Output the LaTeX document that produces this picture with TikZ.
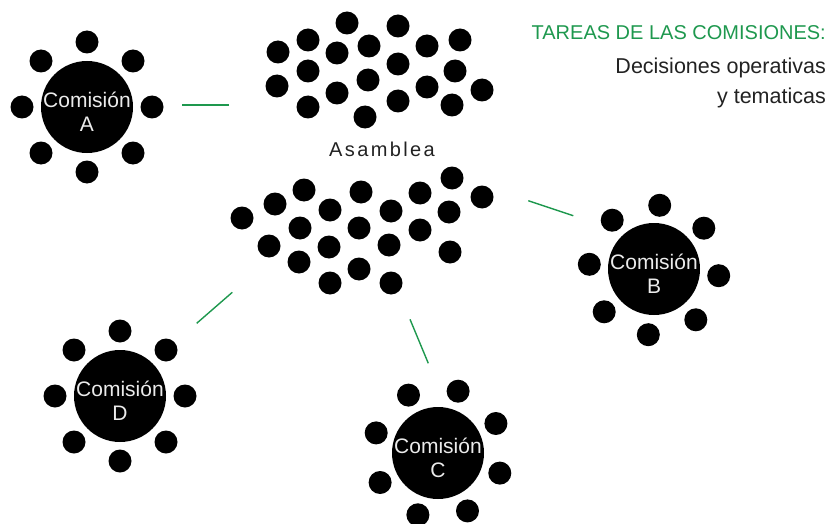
\documentclass[tikz,border=0pt]{standalone}
\usepackage{fontspec}
\setmainfont{Liberation Sans}
\usepackage{tikz}
\definecolor{verde}{RGB}{30,152,78}
\definecolor{grisoscuro}{RGB}{34,34,34}

\begin{document}
\begin{tikzpicture}[x=1pt, y=-1pt,
  miembro/.style={circle, fill=black, minimum size=23pt, inner sep=0pt, outer sep=0pt},
  mesa/.style={circle, fill=black, minimum size=92pt, inner sep=0pt, outer sep=0pt},
  rotulo/.style={text=white!92!black, align=center, font=\fontsize{21}{24}\selectfont, yshift=-5pt},
  texto/.style={anchor=base east, inner sep=0pt, text=grisoscuro, font=\fontsize{21.5}{24}\selectfont},
  enlace/.style={draw=verde, line width=1.4pt}]
\useasboundingbox (0,0) rectangle (829,524);

% asamblea, grupo de arriba
\node[miembro] (m1) at (278,52) {};
\node[miembro] (m2) at (277,86) {};
\node[miembro] (m3) at (308,40) {};
\node[miembro] (m4) at (308,71) {};
\node[miembro] (m5) at (308,107) {};
\node[miembro] (m6) at (347,23) {};
\node[miembro] (m7) at (337,53) {};
\node[miembro] (m8) at (337,93) {};
\node[miembro] (m9) at (369,46) {};
\node[miembro] (m10) at (368,80) {};
\node[miembro] (m11) at (365,117) {};
\node[miembro] (m12) at (398,26) {};
\node[miembro] (m13) at (398,64) {};
\node[miembro] (m14) at (398,101) {};
\node[miembro] (m15) at (427,46) {};
\node[miembro] (m16) at (427,87) {};
\node[miembro] (m17) at (460,40) {};
\node[miembro] (m18) at (455,71) {};
\node[miembro] (m19) at (452,105) {};
\node[miembro] (m20) at (482,90) {};

% asamblea, grupo de abajo
\node[miembro] (m21) at (242,218) {};
\node[miembro] (m22) at (275,204) {};
\node[miembro] (m23) at (304,190) {};
\node[miembro] (m24) at (269,246) {};
\node[miembro] (m25) at (300,228) {};
\node[miembro] (m26) at (299,262) {};
\node[miembro] (m27) at (330,210) {};
\node[miembro] (m28) at (329,247) {};
\node[miembro] (m29) at (330,283) {};
\node[miembro] (m30) at (361,192) {};
\node[miembro] (m31) at (359,228) {};
\node[miembro] (m32) at (359,269) {};
\node[miembro] (m33) at (391,211) {};
\node[miembro] (m34) at (389,245) {};
\node[miembro] (m35) at (391,283) {};
\node[miembro] (m36) at (420,193) {};
\node[miembro] (m37) at (420,230) {};
\node[miembro] (m38) at (452,178) {};
\node[miembro] (m39) at (449,212) {};
\node[miembro] (m40) at (450,252) {};
\node[miembro] (m41) at (482,197) {};

\node[anchor=base, text=grisoscuro, font=\fontsize{20}{24}\selectfont\addfontfeature{LetterSpace=12}] (asamblea) at (382,156.7) {Asamblea};

% comision A
\node[mesa] (comA) at (87,107) {};
\node[miembro] (a1) at (87,42) {};
\node[miembro] (a2) at (133,61) {};
\node[miembro] (a3) at (152,107) {};
\node[miembro] (a4) at (133,153) {};
\node[miembro] (a5) at (87,172) {};
\node[miembro] (a6) at (41,153) {};
\node[miembro] (a7) at (22,107) {};
\node[miembro] (a8) at (41,61) {};
\node[rotulo] (tA) at (comA) {Comisión\\A};

% comision B
\node[mesa] (comB) at (654,269) {};
\node[miembro] (b1) at (659.7,205.3) {};
\node[miembro] (b2) at (703.8,228.2) {};
\node[miembro] (b3) at (718.7,275.7) {};
\node[miembro] (b4) at (695.8,319.8) {};
\node[miembro] (b5) at (648.3,334.7) {};
\node[miembro] (b6) at (604.2,311.8) {};
\node[miembro] (b7) at (589.3,264.3) {};
\node[miembro] (b8) at (612.2,220.2) {};
\node[rotulo] (tB) at (comB) {Comisión\\B};

% comision C
\node[mesa] (comC) at (438,453) {};
\node[miembro] (c1) at (408.5,395.1) {};
\node[miembro] (c2) at (458.1,391.2) {};
\node[miembro] (c3) at (495.9,423.5) {};
\node[miembro] (c4) at (499.8,473.1) {};
\node[miembro] (c5) at (467.5,510.9) {};
\node[miembro] (c6) at (417.9,514.8) {};
\node[miembro] (c7) at (380.1,482.5) {};
\node[miembro] (c8) at (376.2,432.9) {};
\node[rotulo] (tC) at (comC) {Comisión\\C};

% comision D
\node[mesa] (comD) at (120,396) {};
\node[miembro] (d1) at (120,331) {};
\node[miembro] (d2) at (166,350) {};
\node[miembro] (d3) at (185,396) {};
\node[miembro] (d4) at (166,442) {};
\node[miembro] (d5) at (120,461) {};
\node[miembro] (d6) at (74,442) {};
\node[miembro] (d7) at (55,396) {};
\node[miembro] (d8) at (74,350) {};
\node[rotulo] (tD) at (comD) {Comisión\\D};

% enlaces
\coordinate (eA1) at (229,105);
\coordinate (eA2) at (182,105);
\coordinate (eB1) at (528.3,200.7);
\coordinate (eB2) at (573.3,215.7);
\coordinate (eC1) at (410,319.3);
\coordinate (eC2) at (428.3,363.3);
\coordinate (eD1) at (232.3,292.3);
\coordinate (eD2) at (196.7,323.3);
\draw[enlace] (eA1) -- (eA2);
\draw[enlace] (eB1) -- (eB2);
\draw[enlace] (eC1) -- (eC2);
\draw[enlace] (eD1) -- (eD2);

\node[anchor=base east, inner sep=0pt, text=verde, font=\fontsize{20}{24}\selectfont] (tareas) at (826,40) {TAREAS DE LAS COMISIONES:};
\node[texto] (decisiones) at (826,73.5) {Decisiones operativas};
\node[texto] (tematicas) at (826,103.5) {y tematicas};
\end{tikzpicture}
\end{document}
